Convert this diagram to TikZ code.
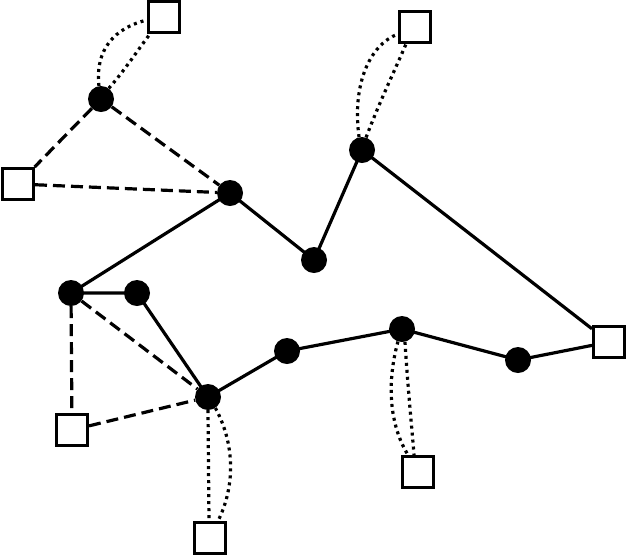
\documentclass[tikz,border=0pt]{standalone}
\usetikzlibrary{backgrounds}
\begin{document}
\begin{tikzpicture}[x=1pt,y=-1pt,
  dot/.style={circle,fill=black,draw=none,minimum size=26pt,inner sep=0pt},
  sq/.style={rectangle,draw=black,fill=white,line width=3pt,minimum size=31pt,inner sep=0pt},
  solidedge/.style={line width=3.2pt},
  dashededge/.style={line width=3.2pt,dash pattern=on 12pt off 6pt},
  dottededge/.style={line width=3.2pt,dash pattern=on 3pt off 4pt}]
\useasboundingbox (0,0) rectangle (628,558);
\node[dot] (nA) at (101,99) {};
\node[dot] (nB) at (230,193) {};
\node[dot] (nC) at (314,260) {};
\node[dot] (nD) at (362,150) {};
\node[dot] (nE) at (71,293) {};
\node[dot] (nF) at (137,293) {};
\node[dot] (nG) at (208,397) {};
\node[dot] (nH) at (287,351) {};
\node[dot] (nI) at (402,329) {};
\node[dot] (nJ) at (518,360) {};
\node[sq] (nS1) at (164,17) {};
\node[sq] (nS2) at (415,27) {};
\node[sq] (nS3) at (18,184) {};
\node[sq] (nS4) at (609,342) {};
\node[sq] (nS5) at (72,430) {};
\node[sq] (nS6) at (418,472) {};
\node[sq] (nS7) at (210,538) {};
\begin{scope}[on background layer]
\draw[solidedge] (nB.center) -- (nC.center) -- (nD.center) -- (nS4);
\draw[solidedge] (nB.center) -- (nE.center) -- (nF.center) -- (nG.center) -- (nH.center) -- (nI.center) -- (nJ.center) -- (nS4);
\draw[dashededge] (nA) -- (nS3);
\draw[dashededge] (nA) -- (nB);
\draw[dashededge] (nS3) -- (nB);
\draw[dashededge] (nE) -- (nS5);
\draw[dashededge] (nE) -- (nG);
\draw[dashededge] (nS5) -- (nG);
\draw[dottededge] (nA.99) .. controls +(-4,-36) and +(-33,8) .. ([yshift=-3pt]nS1.west);
\draw[dottededge] (nA.54) .. controls +(16,-18) and +(-13,17) .. ([xshift=3pt]nS1.south west);
\draw[dottededge] (nD.103) .. controls +(-7,-52) and +(-29,11) .. ([yshift=-7pt]nS2.west);
\draw[dottededge] (nD.72) .. controls +(14,-37) and +(-11,26) .. ([xshift=8pt]nS2.south west);
\draw[dottededge] (nG.270) -- ([xshift=-1pt]nS7.north);
\draw[dottededge] (nG.304) .. controls +(22,41) and +(15,-30) .. ([xshift=8pt]nS7.north);
\draw[dottededge] (nI.252) .. controls +(-13,48) and +(-16,-26) .. ([xshift=-10pt]nS6.north);
\draw[dottededge] (nI.283) .. controls +(3,48) and +(-2,-26) .. ([xshift=-4pt]nS6.north);
\end{scope}
\end{tikzpicture}
\end{document}
